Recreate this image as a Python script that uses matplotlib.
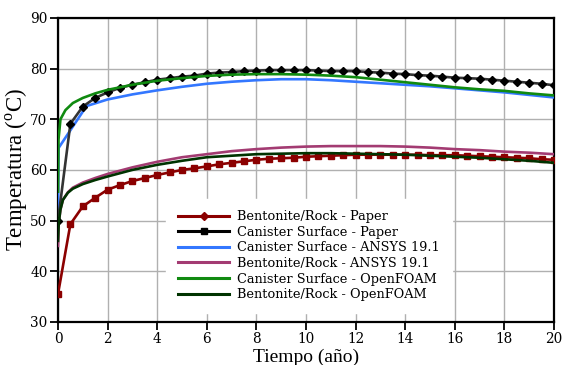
import numpy as np
import matplotlib.pyplot as plt
from matplotlib.lines import Line2D

plt.rcParams['font.family'] = 'DejaVu Serif'
plt.rcParams['mathtext.fontset'] = 'custom'
plt.rcParams['mathtext.rm'] = 'Liberation Serif'

# Canister Surface - Paper (black, diamonds)
t_can_paper = [0, 0.5, 1, 1.5, 2, 2.5, 3, 3.5, 4, 4.5, 5, 5.5, 6, 6.5, 7, 7.5, 8, 8.5,
               9, 9.5, 10, 10.5, 11, 11.5, 12, 12.5, 13, 13.5, 14, 14.5, 15, 15.5, 16,
               16.5, 17, 17.5, 18, 18.5, 19, 19.5, 20]
T_can_paper = [50, 69.1, 72.5, 74.2, 75.3, 76.2, 76.8, 77.3, 77.8, 78.1, 78.4, 78.6, 79.0,
               79.2, 79.3, 79.5, 79.6, 79.7, 79.7, 79.7, 79.7, 79.6, 79.5, 79.5, 79.5, 79.3,
               79.2, 79.0, 78.9, 78.7, 78.6, 78.4, 78.2, 78.1, 78.0, 77.8, 77.6, 77.4, 77.2,
               77.0, 76.7]

# Bentonite/Rock - Paper (dark red, squares)
t_ben_paper = t_can_paper
T_ben_paper = [35.5, 49.3, 52.8, 54.5, 56.1, 57.0, 57.8, 58.4, 59.0, 59.5, 60.0, 60.3, 60.7,
               61.1, 61.4, 61.7, 62.0, 62.2, 62.3, 62.4, 62.6, 62.7, 62.8, 62.9, 63.0, 63.0,
               63.0, 63.0, 63.0, 63.0, 62.9, 62.9, 62.9, 62.8, 62.7, 62.6, 62.5, 62.4, 62.3,
               62.1, 62.0]

# Canister Surface - ANSYS 19.1 (blue)
t_can_ansys = [0, 0.02, 1.15, 2, 3, 4, 5, 6, 7, 8, 9, 10, 11, 12, 13, 14, 15, 16, 17, 18, 19, 20]
T_can_ansys = [51, 64.3, 72.6, 73.9, 74.9, 75.7, 76.4, 77.0, 77.4, 77.7, 77.9, 77.9, 77.7,
               77.4, 77.1, 76.8, 76.5, 76.1, 75.7, 75.3, 74.8, 74.3]

# Bentonite/Rock - ANSYS 19.1 (pink)
t_ben_ansys = [0, 0.03, 0.1, 0.2, 0.4, 0.6, 1, 1.5, 2, 3, 4, 5, 6, 7, 8, 9, 10, 11, 12, 13,
               14, 15, 16, 17, 18, 19, 20]
T_ben_ansys = [45, 49.5, 52.2, 54.1, 55.6, 56.5, 57.5, 58.4, 59.2, 60.5, 61.6, 62.5, 63.1,
               63.7, 64.1, 64.4, 64.6, 64.7, 64.7, 64.7, 64.6, 64.4, 64.1, 63.9, 63.6, 63.4,
               63.1]

# Canister Surface - OpenFOAM (green)
t_can_foam = [0, 0.02, 0.1, 0.3, 0.6, 1, 1.5, 2, 3, 4, 5, 6, 7, 8, 9, 10, 11, 12, 13, 14,
              15, 16, 17, 18, 19, 20]
T_can_foam = [55.7, 66, 70, 71.8, 73.2, 74.2, 75.1, 75.8, 76.8, 77.6, 78.1, 78.55, 78.8, 78.9,
              78.9, 78.8, 78.6, 78.3, 77.8, 77.3, 76.8, 76.3, 75.9, 75.6, 75.1, 74.7]

# Bentonite/Rock - OpenFOAM (dark green)
t_ben_foam = [0, 0.03, 0.1, 0.2, 0.4, 0.6, 1, 1.5, 2, 3, 4, 5, 6, 7, 8, 9, 10, 11, 12, 13,
              14, 15, 16, 17, 18, 19, 20]
T_ben_foam = [46, 49.5, 52.2, 54.1, 55.5, 56.3, 57.2, 58.0, 58.7, 60.0, 61.0, 61.8, 62.5,
              62.8, 63.1, 63.2, 63.3, 63.3, 63.2, 63.1, 63.0, 62.8, 62.6, 62.4, 62.1, 61.8,
              61.4]

labels = ['Bentonite/Rock - Paper', 'Canister Surface - Paper', 'Canister Surface - ANSYS 19.1',
          'Bentonite/Rock - ANSYS 19.1', 'Canister Surface - OpenFOAM', 'Bentonite/Rock - OpenFOAM']
colors = ['#8b0000', '#000000', '#3377ff', '#a33b72', '#108a10', '#003300']

fig = plt.figure(figsize=(5.63, 3.65), dpi=100)
ax = fig.add_axes([0.103, 0.118, 0.881, 0.833])

lw = 1.9
ax.plot(t_ben_paper, T_ben_paper, color=colors[0], lw=lw, marker='s', ms=4.5, zorder=3)
ax.plot(t_can_ansys, T_can_ansys, color=colors[2], lw=lw, zorder=3)
ax.plot(t_ben_ansys, T_ben_ansys, color=colors[3], lw=lw, zorder=3)
ax.plot(t_can_paper, T_can_paper, color='#333333', lw=lw, marker='D', ms=3.6,
        mfc='black', mec='black', zorder=4)
ax.plot(t_can_foam, T_can_foam, color=colors[4], lw=lw, zorder=4)
ax.plot(t_ben_foam, T_ben_foam, color=colors[5], lw=lw, zorder=4)

ax.set_xlim(0, 20)
ax.set_ylim(30, 90)
ax.set_xticks(np.arange(0, 21, 2))
ax.set_yticks(np.arange(30, 91, 10))
ax.grid(True, color='#b0b0b0', lw=1)
ax.set_axisbelow(True)
for s in ax.spines.values():
    s.set_linewidth(1.6)
ax.tick_params(direction='out', length=5.5, width=1.3, labelsize=9.8, pad=2)

ax.set_xlabel('Tiempo (año)', family='Liberation Serif', fontsize=14, labelpad=2)
ax.set_ylabel(r'Temperatura ($^{\rm o}$C)', family='Liberation Serif', fontsize=16.5, labelpad=0)

handles = [
    Line2D([], [], color=colors[0], lw=2.2, marker='D', ms=4),
    Line2D([], [], color=colors[1], lw=2.2, marker='s', ms=4.5),
] + [Line2D([], [], color=c, lw=2.2) for c in colors[2:]]
leg = ax.legend(handles, labels, loc='lower left', bbox_to_anchor=(0.218, 0.03),
                fontsize=9.3, handlelength=4.0, handletextpad=0.6, labelspacing=0.2,
                borderpad=0.9, borderaxespad=0,
                fancybox=False, framealpha=1, edgecolor='white')
leg.set_zorder(5)

fig.savefig('out.png', dpi=100)
